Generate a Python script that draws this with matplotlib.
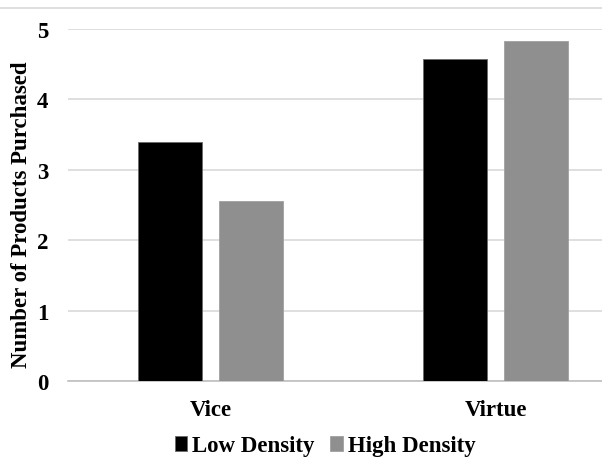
import numpy as np
import matplotlib.pyplot as plt
from matplotlib.lines import Line2D

plt.rcParams['font.family'] = ['Liberation Serif', 'DejaVu Serif']
plt.rcParams['font.weight'] = 'bold'

categories = ['Vice', 'Virtue']
low_density = [3.39, 4.57]
high_density = [2.56, 4.83]
series_names = ['Low Density', 'High Density']

fig = plt.figure(figsize=(6.02, 4.60), dpi=100)
ax = fig.add_axes([68 / 602, 1 - 382.3 / 460, (602 - 68) / 602, 352.3 / 460])

x = np.arange(len(categories))
w = 0.2246
off = 0.1435
ax.bar(x - off, low_density, w, color='black', edgecolor='#6a6a6a', linewidth=0.6,
       label=series_names[0], zorder=3)
ax.bar(x + off, high_density, w, color='#8f8f8f', edgecolor='#a0a0a0', linewidth=0.6,
       label=series_names[1], zorder=3)

ax.set_xlim(-0.5, (602 - 210.5) / 285)
ax.set_ylim(0, 5)
ax.set_yticks(range(6))
ax.set_xticks(x)
ax.set_xticklabels(categories, fontsize=16.5, fontweight='bold')
ax.tick_params(axis='y', labelsize=16.5, length=0, pad=14)
ax.tick_params(axis='x', length=0, pad=13)
ax.grid(axis='y', color='#d9d9d9', linewidth=1.2, zorder=0)
for s in ['top', 'right', 'left']:
    ax.spines[s].set_visible(False)
ax.spines['bottom'].set_color('#bfbfbf')
ax.spines['bottom'].set_linewidth(1.2)
ax.set_ylabel('Number of Products Purchased', fontsize=16.5, fontweight='bold')
ax.yaxis.set_label_coords(-(68 - 32) / 534, 0.475)

# thin rule along the top of the figure
fig.add_artist(Line2D([0, 1], [1 - 9 / 460, 1 - 9 / 460], color='#d9d9d9', linewidth=1.2))

fig.legend(loc='center', bbox_to_anchor=(0.54, 1 - 447 / 460), ncol=2, frameon=False,
           fontsize=16.5, handlelength=0.55, handleheight=0.6, handletextpad=0.2,
           columnspacing=0.7)

fig.savefig('out.png', dpi=100)
